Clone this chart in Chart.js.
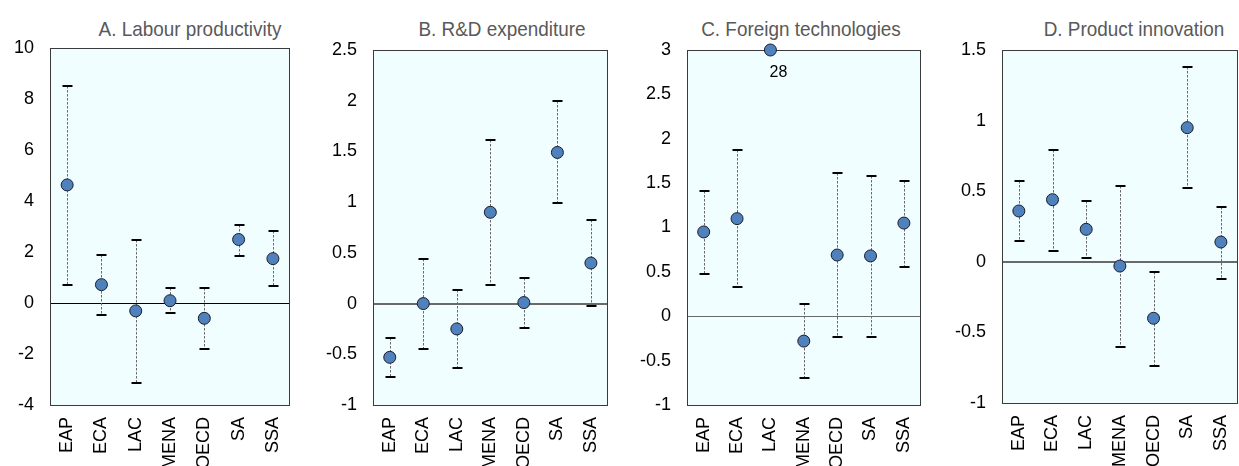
<!DOCTYPE html>
<html>
<head>
<meta charset="utf-8">
<script src="https://cdn.jsdelivr.net/npm/chart.js@4/dist/chart.umd.min.js"></script>
<style>
  html, body { margin: 0; padding: 0; background: #ffffff; }
  body { width: 1239px; height: 466px; overflow: hidden; position: relative; }
  canvas { position: absolute; top: 0; }
  .ttl {
    position: absolute; top: 18px; line-height: 22px; white-space: nowrap;
    font-family: "Liberation Sans", Arial, sans-serif;
    font-size: 21px; color: #595959;
    transform: translateX(-50%) scaleX(0.9);
  }
</style>
</head>
<body>
<div class="ttl" id="tA"></div>
<div class="ttl" id="tB"></div>
<div class="ttl" id="tC"></div>
<div class="ttl" id="tD"></div>
<canvas id="cA"></canvas>
<canvas id="cB"></canvas>
<canvas id="cC"></canvas>
<canvas id="cD"></canvas>
<script>
// Regions on the horizontal axis
const categories = ['EAP', 'ECA', 'LAC', 'MENA', 'OECD', 'SA', 'SSA'];

// A. Labour productivity: estimate and confidence bounds
const labourEst  = [4.63, 0.72, -0.31, 0.09, -0.60, 2.49, 1.74];
const labourLow  = [0.69, -0.49, -3.15, -0.41, -1.79, 1.85, 0.65];
const labourHigh = [8.52, 1.89, 2.49, 0.57, 0.57, 3.07, 2.81];
const labourTicks = [-4, -2, 0, 2, 4, 6, 8, 10];

// B. R&D expenditure
const rdEst  = [-0.53, 0.00, -0.25, 0.90, 0.01, 1.49, 0.40];
const rdLow  = [-0.72, -0.45, -0.64, 0.18, -0.24, 0.99, -0.02];
const rdHigh = [-0.34, 0.44, 0.13, 1.61, 0.25, 2.00, 0.82];
const rdTicks = [-1, -0.5, 0, 0.5, 1, 1.5, 2, 2.5];

// C. Foreign technologies (LAC lies far above the axis range)
const foreignEst  = [0.95, 1.10, 28, -0.28, 0.69, 0.68, 1.05];
const foreignLow  = [0.48, 0.33, null, -0.70, -0.23, -0.23, 0.56];
const foreignHigh = [1.41, 1.87, null, 0.14, 1.61, 1.58, 1.52];
const foreignTicks = [-1, -0.5, 0, 0.5, 1, 1.5, 2, 2.5, 3];

// D. Product innovation
const productEst  = [0.36, 0.44, 0.23, -0.03, -0.40, 0.95, 0.14];
const productLow  = [0.15, 0.08, 0.03, -0.60, -0.74, 0.52, -0.12];
const productHigh = [0.57, 0.79, 0.43, 0.54, -0.07, 1.38, 0.39];
const productTicks = [-1, -0.5, 0, 0.5, 1, 1.5];

const panelTitles = ['A. Labour productivity', 'B. R&D expenditure', 'C. Foreign technologies', 'D. Product innovation'];

const FONT = '"Liberation Sans", Arial, sans-serif';
const AXIS_W = 50;     // room for the value labels
const XAXIS_H = 90;    // room for the rotated region labels

const panels = [
  { key: 'A', est: labourEst,  low: labourLow,  high: labourHigh,  ticks: labourTicks,
    box: { l: 50,   r: 303,  t: 48, b: 405 }, titleX: 190,  zero: { color: '#000000', width: 1 } },
  { key: 'B', est: rdEst,      low: rdLow,      high: rdHigh,      ticks: rdTicks,
    box: { l: 373,  r: 621,  t: 50, b: 405 }, titleX: 502,  zero: { color: '#6a6a6a', width: 2 } },
  { key: 'C', est: foreignEst, low: foreignLow, high: foreignHigh, ticks: foreignTicks,
    box: { l: 687,  r: 934,  t: 50, b: 405 }, titleX: 801,  zero: { color: '#6a6a6a', width: 1 } },
  { key: 'D', est: productEst, low: productLow, high: productHigh, ticks: productTicks,
    box: { l: 1002, r: 1251, t: 50, b: 403 }, titleX: 1134, zero: { color: '#6a6a6a', width: 2 } }
];

function panelPlugin(p) {
  const yMax = p.ticks[p.ticks.length - 1];
  return {
    id: 'panel' + p.key,
    beforeDraw(chart) {
      const { ctx, chartArea: a } = chart;
      ctx.save();
      ctx.fillStyle = '#F1FEFF';
      ctx.fillRect(a.left, a.top, a.right - a.left, a.bottom - a.top);
      ctx.restore();
    },
    beforeDatasetsDraw(chart) {
      const { ctx, chartArea: a, scales: { x, y } } = chart;
      ctx.save();
      // zero line
      const y0 = Math.round(y.getPixelForValue(0));
      const off = p.zero.width % 2 ? 0.5 : 0;
      ctx.strokeStyle = p.zero.color;
      ctx.lineWidth = p.zero.width;
      ctx.beginPath();
      ctx.moveTo(a.left, y0 + off);
      ctx.lineTo(a.right, y0 + off);
      ctx.stroke();
      // confidence intervals
      p.low.forEach((lo, i) => {
        const hi = p.high[i];
        if (lo == null || hi == null) return;
        const px = Math.round(x.getPixelForValue(i)) + 0.5;
        const yl = Math.round(y.getPixelForValue(lo));
        const yh = Math.round(y.getPixelForValue(hi));
        ctx.strokeStyle = '#6a6a6a';
        ctx.lineWidth = 1;
        ctx.setLineDash([2.5, 1.5]);
        ctx.beginPath();
        ctx.moveTo(px, yh);
        ctx.lineTo(px, yl);
        ctx.stroke();
        ctx.setLineDash([]);
        ctx.strokeStyle = '#000000';
        ctx.lineWidth = 2;
        ctx.beginPath();
        ctx.moveTo(px - 5, yh); ctx.lineTo(px + 5, yh);
        ctx.moveTo(px - 5, yl); ctx.lineTo(px + 5, yl);
        ctx.stroke();
      });
      // plot frame
      ctx.strokeStyle = '#3a3a3a';
      ctx.lineWidth = 1;
      ctx.strokeRect(Math.round(a.left) + 0.5, Math.round(a.top) + 0.5,
                     Math.round(a.right - a.left) - 1, Math.round(a.bottom - a.top));
      ctx.restore();
    },
    afterDatasetsDraw(chart) {
      // value label for a point beyond the axis range
      const { ctx, scales: { x, y } } = chart;
      ctx.save();
      ctx.fillStyle = '#000000';
      ctx.font = '16px ' + FONT;
      ctx.textAlign = 'center';
      ctx.textBaseline = 'middle';
      p.est.forEach((v, i) => {
        if (v > yMax) {
          const px = x.getPixelForValue(i);
          const py = y.getPixelForValue(yMax);
          ctx.fillText(String(v), px + 8, py + 23);
        }
      });
      ctx.restore();
    }
  };
}

panels.forEach((p, k) => {
  const t = document.getElementById('t' + p.key);
  t.textContent = panelTitles[k];
  t.style.left = p.titleX + 'px';

  const canvas = document.getElementById('c' + p.key);
  const cw = AXIS_W + (p.box.r - p.box.l) + 4;
  const ch = p.box.b + XAXIS_H;
  canvas.width = cw;
  canvas.height = ch;
  canvas.style.width = cw + 'px';
  canvas.style.height = ch + 'px';
  canvas.style.left = (p.box.l - AXIS_W) + 'px';

  const yMin = p.ticks[0];
  const yMax = p.ticks[p.ticks.length - 1];

  new Chart(canvas, {
    type: 'line',
    data: {
      labels: categories,
      datasets: [{
        data: p.est.map(v => Math.min(v, yMax)),
        showLine: false,
        pointRadius: 6,
        pointHoverRadius: 6,
        pointBackgroundColor: '#4F81BD',
        pointBorderColor: '#1c1c2a',
        pointBorderWidth: 1,
        clip: false
      }]
    },
    options: {
      responsive: false,
      animation: false,
      events: [],
      layout: { padding: { top: p.box.t, right: 4, left: 0, bottom: 0 } },
      plugins: { legend: { display: false }, tooltip: { enabled: false }, title: { display: false } },
      scales: {
        x: {
          type: 'category',
          offset: true,
          grid: { display: false, drawTicks: false },
          border: { display: false },
          ticks: {
            autoSkip: false, maxRotation: 90, minRotation: 90, padding: 12,
            color: '#000000', font: { family: FONT, size: 18 }
          },
          afterFit(s) { s.height = XAXIS_H; }
        },
        y: {
          min: yMin, max: yMax,
          grid: { display: false, drawTicks: false },
          border: { display: false },
          ticks: {
            padding: 16, color: '#000000', font: { family: FONT, size: 18 },
            callback: v => String(Math.round(v * 10) / 10)
          },
          afterBuildTicks(s) { s.ticks = p.ticks.map(v => ({ value: v })); },
          afterFit(s) { s.width = AXIS_W; }
        }
      }
    },
    plugins: [panelPlugin(p)]
  });
});
</script>
</body>
</html>
